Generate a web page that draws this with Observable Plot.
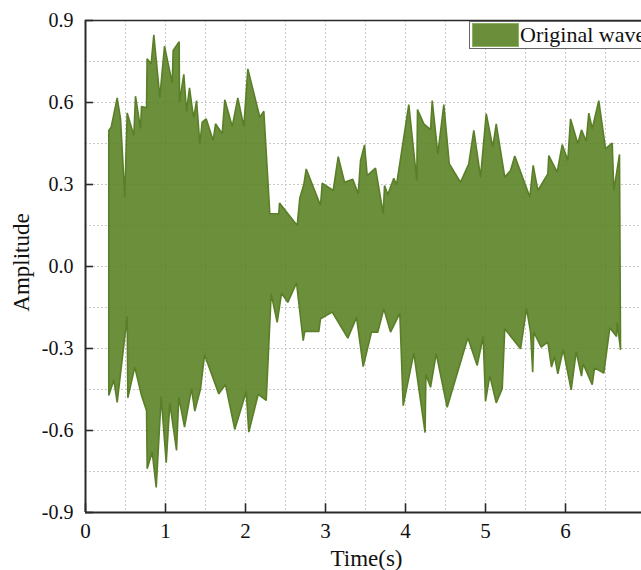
<!DOCTYPE html>
<html>
<head>
<meta charset="utf-8">
<script src="https://cdn.jsdelivr.net/npm/d3@7"></script>
<script src="https://cdn.jsdelivr.net/npm/@observablehq/plot@0.6"></script>
<style>
  html, body { margin: 0; padding: 0; background: #fff; }
  #wrap { position: relative; width: 641px; height: 570px; overflow: hidden; font-family: "Liberation Serif", "Times New Roman", serif; }
  #legend { position: absolute; left: 469px; top: 21px; width: 200px; height: 28px; border: 1px solid #666; background: #fff; box-sizing: border-box; }
  #legend .sw { position: absolute; left: 2px; top: 1px; width: 47px; height: 24px; background: #6b8e3a; border: 1px solid #8db064; box-sizing: border-box; }
  #legend .tx { position: absolute; left: 50px; top: -1px; font-size: 22px; line-height: 28px; color: #111; white-space: nowrap; }
</style>
</head>
<body>
<div id="wrap">
  <div id="chart"></div>
  <div id="legend"><div class="sw"></div><div class="tx">Original wave</div></div>
</div>
<script>
// Upper envelope of the wave: [time (s), amplitude]
const upperEnvelope = [
  [0.291,0.498],[0.321,0.510],[0.396,0.617],[0.438,0.540],[0.491,0.254],[0.521,0.562],
  [0.604,0.479],[0.625,0.623],[0.688,0.504],[0.700,0.585],[0.763,0.581],[0.770,0.760],
  [0.821,0.742],[0.854,0.848],[0.929,0.619],[0.988,0.806],[1.084,0.671],[1.096,0.790],
  [1.171,0.822],[1.175,0.601],[1.229,0.703],[1.263,0.567],[1.300,0.654],[1.338,0.571],
  [1.354,0.546],[1.388,0.607],[1.429,0.449],[1.459,0.528],[1.509,0.540],[1.596,0.461],
  [1.625,0.522],[1.709,0.486],[1.741,0.610],[1.834,0.512],[1.904,0.617],[1.979,0.512],
  [2.029,0.723],[2.179,0.546],[2.229,0.568],[2.304,0.193],[2.416,0.193],[2.425,0.232],
  [2.646,0.150],[2.679,0.251],[2.729,0.300],[2.759,0.357],[2.938,0.223],[2.959,0.305],
  [3.096,0.278],[3.159,0.402],[3.238,0.308],[3.341,0.319],[3.409,0.266],[3.438,0.388],
  [3.488,0.445],[3.521,0.333],[3.625,0.360],[3.721,0.193],[3.738,0.296],[3.779,0.263],
  [3.854,0.323],[3.888,0.299],[4.041,0.592],[4.141,0.315],[4.150,0.574],[4.229,0.522],
  [4.313,0.501],[4.334,0.607],[4.404,0.412],[4.479,0.592],[4.547,0.376],[4.688,0.308],
  [4.791,0.376],[4.854,0.498],[4.938,0.327],[5.009,0.559],[5.091,0.437],[5.134,0.522],
  [5.241,0.327],[5.313,0.351],[5.366,0.404],[5.554,0.254],[5.596,0.370],[5.654,0.278],
  [5.779,0.339],[5.791,0.406],[5.896,0.345],[5.959,0.446],[6.029,0.388],[6.063,0.540],
  [6.154,0.449],[6.200,0.500],[6.259,0.458],[6.291,0.561],[6.334,0.504],[6.416,0.607],
  [6.500,0.431],[6.584,0.451],[6.604,0.278],[6.675,0.410]
];
// Lower envelope of the wave: [time (s), amplitude]
const lowerEnvelope = [
  [0.291,-0.472],[0.354,-0.415],[0.396,-0.497],[0.521,-0.183],[0.529,-0.480],[0.616,-0.368],
  [0.700,-0.472],[0.763,-0.527],[0.771,-0.740],[0.834,-0.679],[0.884,-0.808],[0.946,-0.476],
  [1.009,-0.718],[1.054,-0.500],[1.138,-0.673],[1.166,-0.478],[1.238,-0.588],[1.325,-0.447],
  [1.366,-0.529],[1.438,-0.447],[1.488,-0.323],[1.666,-0.466],[1.750,-0.432],[1.866,-0.596],
  [2.009,-0.457],[2.041,-0.606],[2.159,-0.468],[2.259,-0.490],[2.321,-0.100],[2.396,-0.204],
  [2.450,-0.098],[2.529,-0.131],[2.638,-0.060],[2.721,-0.271],[2.741,-0.238],[2.916,-0.238],
  [2.938,-0.191],[3.084,-0.167],[3.279,-0.262],[3.388,-0.186],[3.471,-0.366],[3.575,-0.240],
  [3.654,-0.240],[3.729,-0.155],[3.813,-0.240],[3.929,-0.171],[3.971,-0.509],[4.104,-0.317],
  [4.245,-0.608],[4.255,-0.395],[4.313,-0.442],[4.384,-0.319],[4.521,-0.515],[4.779,-0.261],
  [4.896,-0.362],[4.971,-0.256],[5.000,-0.493],[5.054,-0.399],[5.134,-0.499],[5.209,-0.447],
  [5.241,-0.228],[5.438,-0.301],[5.513,-0.153],[5.563,-0.240],[5.590,-0.387],[5.604,-0.240],
  [5.696,-0.295],[5.779,-0.277],[5.825,-0.368],[5.863,-0.329],[5.904,-0.393],[5.971,-0.304],
  [6.071,-0.451],[6.134,-0.311],[6.200,-0.401],[6.221,-0.356],[6.334,-0.432],[6.363,-0.371],
  [6.479,-0.390],[6.554,-0.224],[6.638,-0.256],[6.646,-0.204],[6.688,-0.305]
];
const xTicks = [0, 1, 2, 3, 4, 5, 6, 7];
const yTicks = [-0.9, -0.6, -0.3, 0.0, 0.3, 0.6, 0.9];
const xGrid = [0.5, 1, 1.5, 2, 2.5, 3, 3.5, 4, 4.5, 5, 5.5, 6, 6.5];
const yGrid = [-0.75, -0.6, -0.45, -0.3, -0.15, 0, 0.15, 0.3, 0.45, 0.6, 0.75];

// closed outline: upper forward, lower backward
const outline = [
  ...upperEnvelope.map(([t, v]) => ({t, v})),
  ...lowerEnvelope.slice().reverse().map(([t, v]) => ({t, v})),
  {t: upperEnvelope[0][0], v: upperEnvelope[0][1]}
];

const serif = "Liberation Serif, Times New Roman, serif";
const axisColor = "#2a2a2a";

const chart = Plot.plot({
  width: 641,
  height: 570,
  marginLeft: 85,
  marginRight: 0,
  marginTop: 20,
  marginBottom: 58,
  style: {fontFamily: serif, background: "#fff", overflow: "hidden"},
  x: {domain: [0, 6.95], axis: null},
  y: {domain: [-0.9, 0.9], axis: null},
  marks: [
    Plot.ruleX(xGrid, {x: d => d, stroke: "#c8c8c8", strokeWidth: 1, strokeDasharray: "2,2"}),
    Plot.ruleY(yGrid, {y: d => d, stroke: "#c8c8c8", strokeWidth: 1, strokeDasharray: "2,2"}),
    Plot.line(outline, {x: "t", y: "v", fill: "#577f1f", fillOpacity: 0.88, stroke: "#5a7f28", strokeWidth: 1.6, strokeLinejoin: "miter"}),
    // frame
    Plot.ruleY([0.9], {stroke: axisColor, strokeWidth: 1.6}),
    Plot.ruleY([-0.9], {stroke: axisColor, strokeWidth: 2}),
    Plot.ruleX([0], {stroke: axisColor, strokeWidth: 2}),
    // inward ticks
    Plot.ruleX(xTicks, {x: d => d, y1: -0.9, y2: -0.868, stroke: axisColor, strokeWidth: 1.6}),
    Plot.ruleY(yTicks, {y: d => d, x1: 0, x2: 0.1, stroke: axisColor, strokeWidth: 1.6}),
    // tick labels
    Plot.text(xTicks, {x: d => d, y: -0.9, text: d => String(d), lineAnchor: "top", dy: 11, fontSize: 21, fill: "#111", fontFamily: serif}),
    Plot.text(yTicks, {x: 0, y: d => d, text: d => d.toFixed(1), textAnchor: "end", dx: -12, fontSize: 20, fill: "#111", fontFamily: serif}),
    // axis titles
    Plot.text(["Time(s)"], {frameAnchor: "bottom", textAnchor: "middle", lineAnchor: "middle", dy: 46, dx: 3, fontSize: 23, fill: "#111", fontFamily: serif}),
    Plot.text(["Amplitude"], {frameAnchor: "left", textAnchor: "middle", lineAnchor: "middle", rotate: -90, dx: -64, dy: -4, fontSize: 23, fill: "#111", fontFamily: serif})
  ]
});
document.getElementById("chart").appendChild(chart);
</script>
</body>
</html>
